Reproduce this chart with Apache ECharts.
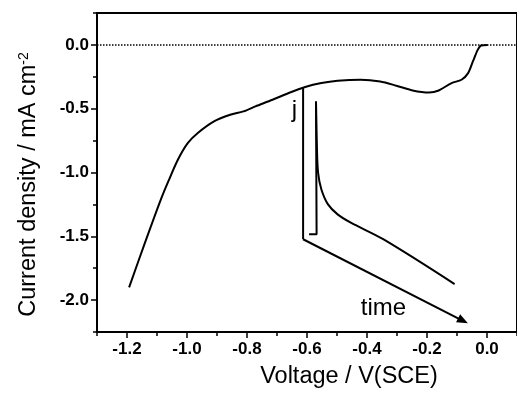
<!DOCTYPE html>
<html>
<head>
<meta charset="utf-8">
<script src="https://cdn.jsdelivr.net/npm/echarts@6/dist/echarts.min.js"></script>
<style>
  html, body { margin: 0; padding: 0; background: #fff; }
  #chart { width: 517px; height: 394px; }
</style>
</head>
<body>
<div id="chart"></div>
<script>
// polarisation curve
const voltage = [-1.193, -1.14, -1.087, -1.062, -1.030, -0.997, -0.964, -0.910, -0.856, -0.812,
  -0.772, -0.715, -0.661, -0.606, -0.552, -0.498, -0.421, -0.356, -0.302, -0.248,
  -0.193, -0.161, -0.118, -0.085, -0.063, -0.047, -0.031, -0.020, 0.002];
const current = [-1.90, -1.55, -1.211, -1.068, -0.898, -0.768, -0.690, -0.599, -0.547, -0.521,
  -0.482, -0.430, -0.377, -0.330, -0.299, -0.281, -0.273, -0.287, -0.320, -0.357,
  -0.373, -0.357, -0.299, -0.273, -0.221, -0.130, -0.039, -0.005, 0];

// current transient sketch (inset): bracket rise, then the decay
const riseV = [-0.593, -0.568, -0.570];
const riseJ = [-1.484, -1.484, -0.443];
const decayV = [-0.570, -0.567, -0.563, -0.552, -0.530, -0.498, -0.454, -0.346, -0.108];
const decayJ = [-0.443, -0.795, -1.002, -1.133, -1.250, -1.328, -1.393, -1.523, -1.875];

// inset axes: j axis and the time arrow
const jAxisV = [-0.613, -0.613];
const jAxisJ = [-0.336, -1.523];
const timeArrow = [[-0.613, -1.523], [-0.080, -2.162]];

const notes = [
  { name: 'j', value: [-0.642, -0.516] },
  { name: 'time', value: [-0.345, -2.063] }
];

const xTicks = [-1.2, -1.0, -0.8, -0.6, -0.4, -0.2, 0.0];
const yTicks = [-2.0, -1.5, -1.0, -0.5, 0.0];

const font = "'Liberation Sans', Arial, sans-serif";
const black = '#000';

const chart = echarts.init(document.getElementById('chart'));

const mainAxis = {
  type: 'value',
  splitLine: { show: false },
  axisLine: { show: true, onZero: false, lineStyle: { color: black, width: 2 } },
  axisTick: { show: true, length: 4, lineStyle: { color: black, width: 1.5 } }
};
// second axis only carries the longer major ticks
const majorTickAxis = (ticks) => ({
  type: 'value',
  splitLine: { show: false },
  axisLine: { show: false, onZero: false },
  axisLabel: { show: false },
  axisTick: { show: true, length: 6, customValues: ticks, lineStyle: { color: black, width: 1.5 } }
});
const labelStyle = {
  color: black, fontFamily: font, fontWeight: 'bold', fontSize: 17,
  formatter: (v) => Number(v).toFixed(1)
};

const line = (xs, ys, extra) => ({
  type: 'line',
  symbol: 'none',
  lineStyle: { color: black, width: 2 },
  data: xs.map((v, i) => [v, ys[i]]),
  ...extra
});

chart.setOption({
  animation: false,
  grid: {
    left: 97, right: -10, top: 13, bottom: 61,
    show: true, borderColor: black, borderWidth: 2
  },
  xAxis: [
    {
      ...mainAxis,
      min: -1.3, max: 0.1, interval: 0.1,
      axisLabel: { ...labelStyle, margin: 9, customValues: xTicks },
      name: 'Voltage / V(SCE)',
      nameLocation: 'middle',
      nameGap: 33,
      nameTextStyle: { color: black, fontFamily: font, fontSize: 23.5, padding: [0, 0, 0, 84] }
    },
    { ...majorTickAxis(xTicks), min: -1.3, max: 0.1, position: 'bottom' }
  ],
  yAxis: [
    {
      ...mainAxis,
      min: -2.25, max: 0.25, interval: 0.25,
      axisLabel: { ...labelStyle, margin: 8, customValues: yTicks },
      name: 'Current density / mA cm{sup|-2}',
      nameLocation: 'middle',
      nameGap: 56,
      nameTextStyle: {
        color: black, fontFamily: font, fontSize: 23.5, padding: [0, 24, 0, 0],
        rich: { sup: { fontFamily: font, fontSize: 14, color: black, verticalAlign: 'top', padding: [0, 0, 10, 0] } }
      }
    },
    { ...majorTickAxis(yTicks), min: -2.25, max: 0.25, position: 'left' }
  ],
  series: [
    line([-1.3, 0.1], [0, 0], { lineStyle: { color: black, width: 1.5, type: [1.5, 1.5] } }),
    line(voltage, current, { smooth: 0.3 }),
    line(riseV, riseJ),
    line(decayV, decayJ, { smooth: 0.35 }),
    line(jAxisV, jAxisJ, {
      markLine: {
        silent: true,
        symbol: ['none', 'triangle'],
        symbolSize: [9, 11],
        label: { show: false },
        lineStyle: { color: black, width: 2, type: 'solid' },
        data: [[{ coord: timeArrow[0] }, { coord: timeArrow[1] }]]
      }
    }),
    {
      type: 'scatter',
      symbolSize: 0,
      itemStyle: { color: black, opacity: 1 },
      label: {
        show: true, position: 'inside', formatter: '{b}',
        color: black, fontFamily: font, fontSize: 24
      },
      data: notes
    }
  ]
});
</script>
</body>
</html>
